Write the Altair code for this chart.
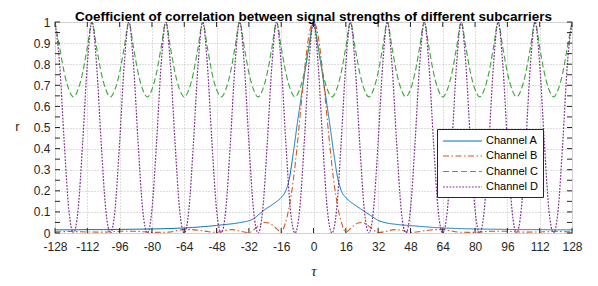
import altair as alt
import pandas as pd

names = ["Channel A", "Channel B", "Channel C", "Channel D"]

x_ab = [-128, -120, -112, -104, -96, -88, -80, -72, -64, -60, -56, -52, -48, -44, -40, -36,
        -32, -30, -28, -26, -24, -22, -20, -18, -16, -14, -12, -10, -8, -6, -4, -2, 0,
        2, 4, 6, 8, 10, 12, 14, 16, 18, 20, 22, 24, 26, 28, 30, 32,
        36, 40, 44, 48, 52, 56, 60, 64, 72, 80, 88, 96, 104, 112, 120, 128]

chan_a = [0.015, 0.015, 0.016, 0.016, 0.017, 0.018, 0.019, 0.021, 0.024, 0.026, 0.029, 0.032, 0.036, 0.04, 0.044, 0.05,
          0.058, 0.066, 0.08, 0.096, 0.112, 0.124, 0.137, 0.151, 0.168, 0.195, 0.255, 0.38, 0.52, 0.65, 0.78, 0.9, 1.0,
          0.9, 0.78, 0.65, 0.52, 0.38, 0.26, 0.195, 0.168, 0.15, 0.136, 0.123, 0.11, 0.097, 0.085, 0.072, 0.06,
          0.048, 0.042, 0.038, 0.035, 0.032, 0.029, 0.026, 0.024, 0.021, 0.019, 0.018, 0.017, 0.016, 0.016, 0.015, 0.015]

chan_b = [0.005, 0.007, 0.005, 0.004, 0.008, 0.008, 0.003, 0.004, 0.016, 0.016, 0.012, 0.006, 0.003, 0.012, 0.016, 0.008,
          0.002, 0.012, 0.028, 0.042, 0.05, 0.047, 0.035, 0.018, 0.003, 0.045, 0.125, 0.25, 0.42, 0.62, 0.81, 0.95, 1.0,
          0.95, 0.81, 0.62, 0.42, 0.25, 0.125, 0.045, 0.003, 0.018, 0.035, 0.047, 0.05, 0.042, 0.028, 0.012, 0.002,
          0.008, 0.016, 0.012, 0.003, 0.006, 0.012, 0.016, 0.016, 0.004, 0.003, 0.008, 0.008, 0.004, 0.005, 0.007, 0.005]

x_cd = [-128, -125.71, -123.43, -121.14, -118.86, -116.57, -114.29,
        -112, -109.71, -107.43, -105.14, -102.86, -100.57, -98.29,
        -96, -93.71, -91.43, -89.14, -86.86, -84.57, -82.29,
        -80, -77.71, -75.43, -73.14, -70.86, -68.57, -66.29,
        -64, -61.71, -59.43, -57.14, -54.86, -52.57, -50.29,
        -48, -45.71, -43.43, -41.14, -38.86, -36.57, -34.29,
        -32, -29.71, -27.43, -25.14, -22.86, -20.57, -18.29,
        -16, -13.71, -11.43, -9.14, -6.86, -4.57, -2.29,
        0, 2.29, 4.57, 6.86, 9.14, 11.43, 13.71,
        16, 18.29, 20.57, 22.86, 25.14, 27.43, 29.71,
        32, 34.29, 36.57, 38.86, 41.14, 43.43, 45.71,
        48, 50.29, 52.57, 54.86, 57.14, 59.43, 61.71,
        64, 66.29, 68.57, 70.86, 73.14, 75.43, 77.71,
        80, 82.29, 84.57, 86.86, 89.14, 91.43, 93.71,
        96, 98.29, 100.57, 102.86, 105.14, 107.43, 109.71,
        112, 114.29, 116.57, 118.86, 121.14, 123.43, 125.71,
        128]

chan_c = [1.0, 0.88, 0.76, 0.68, 0.645, 0.68, 0.76, 0.88,
          1.0, 0.88, 0.76, 0.68, 0.645, 0.68, 0.76, 0.88,
          1.0, 0.88, 0.76, 0.68, 0.645, 0.68, 0.76, 0.88,
          1.0, 0.88, 0.76, 0.68, 0.645, 0.68, 0.76, 0.88,
          1.0, 0.88, 0.76, 0.68, 0.645, 0.68, 0.76, 0.88,
          1.0, 0.88, 0.76, 0.68, 0.645, 0.68, 0.76, 0.88,
          1.0, 0.88, 0.76, 0.68, 0.645, 0.68, 0.76, 0.88,
          1.0, 0.88, 0.76, 0.68, 0.645, 0.68, 0.76, 0.88,
          1.0, 0.88, 0.76, 0.68, 0.645, 0.68, 0.76, 0.88,
          1.0, 0.88, 0.76, 0.68, 0.645, 0.68, 0.76, 0.88,
          1.0, 0.88, 0.76, 0.68, 0.645, 0.68, 0.76, 0.88,
          1.0, 0.88, 0.76, 0.68, 0.645, 0.68, 0.76, 0.88,
          1.0, 0.88, 0.76, 0.68, 0.645, 0.68, 0.76, 0.88,
          1.0, 0.88, 0.76, 0.68, 0.645, 0.68, 0.76, 0.88,
          1.0]

chan_d = [1.0, 0.80, 0.43, 0.11, 0.0, 0.11, 0.43, 0.80,
          1.0, 0.80, 0.43, 0.11, 0.0, 0.11, 0.43, 0.80,
          1.0, 0.80, 0.43, 0.11, 0.0, 0.11, 0.43, 0.80,
          1.0, 0.80, 0.43, 0.11, 0.0, 0.11, 0.43, 0.80,
          1.0, 0.80, 0.43, 0.11, 0.0, 0.11, 0.43, 0.80,
          1.0, 0.80, 0.43, 0.11, 0.0, 0.11, 0.43, 0.80,
          1.0, 0.80, 0.43, 0.11, 0.0, 0.11, 0.43, 0.80,
          1.0, 0.80, 0.43, 0.11, 0.0, 0.11, 0.43, 0.80,
          1.0, 0.80, 0.43, 0.11, 0.0, 0.11, 0.43, 0.80,
          1.0, 0.80, 0.43, 0.11, 0.0, 0.11, 0.43, 0.80,
          1.0, 0.80, 0.43, 0.11, 0.0, 0.11, 0.43, 0.80,
          1.0, 0.80, 0.43, 0.11, 0.0, 0.11, 0.43, 0.80,
          1.0, 0.80, 0.43, 0.11, 0.0, 0.11, 0.43, 0.80,
          1.0, 0.80, 0.43, 0.11, 0.0, 0.11, 0.43, 0.80,
          1.0]

x_ticks = [-128, -112, -96, -80, -64, -48, -32, -16, 0, 16, 32, 48, 64, 80, 96, 112, 128]
y_ticks = [0, 0.1, 0.2, 0.3, 0.4, 0.5, 0.6, 0.7, 0.8, 0.9, 1]
y_minor = [0.05, 0.15, 0.25, 0.35, 0.45, 0.55, 0.65, 0.75, 0.85, 0.95]

colors = ["#0072BD", "#D95319", "#3BAA3B", "#7E2F8E"]
dashes = [[1, 0], [6, 2.5, 1.5, 2.5], [6, 3], [1.8, 1.4]]
widths = [1.0, 1.2, 1.2, 1.9]

rows = []
for xs, vs, nm in [(x_ab, chan_a, names[0]), (x_ab, chan_b, names[1]),
                   (x_cd, chan_c, names[2]), (x_cd, chan_d, names[3])]:
    for xv, yv in zip(xs, vs):
        rows.append({"tau": xv, "r": yv, "series": nm})
df = pd.DataFrame(rows)

W, H = 517, 211
FONT = "Liberation Sans"
AX = "#262626"

xscale = alt.Scale(domain=[-128, 128], nice=False, zero=False)
yscale = alt.Scale(domain=[0, 1], nice=False, zero=False)

legend = alt.Legend(
    title=None, orient="none", legendX=382, legendY=107,
    symbolType="M-1,0H5", symbolSize=169, labelOffset=29,
    padding=5, strokeColor=AX, fillColor="white",
    labelFont=FONT, labelFontSize=11, labelColor="black",
    rowPadding=2.5, symbolFillColor="transparent", symbolOpacity=1,
    symbolStrokeWidth=1.5,
)

xaxis = alt.Axis(values=x_ticks, labelExpr="toString(datum.value)", grid=True,
                 gridDash=[1, 2], gridColor="#bcbcbc", ticks=False, domain=False,
                 labelOverlap=False, labelFlush=False, labelFont=FONT, labelFontSize=12,
                 labelColor=AX, labelPadding=8,
                 title="τ", titleFont="Liberation Serif", titleFontStyle="italic",
                 titleFontWeight="normal", titleFontSize=15, titleColor=AX,
                 titleY=37, titleBaseline="middle")
yaxis = alt.Axis(values=y_ticks, labelExpr="toString(datum.value)", grid=True,
                 gridDash=[1, 2], gridColor="#bcbcbc", ticks=False, domain=False,
                 labelOverlap=False, labelFlush=False, labelFont=FONT, labelFontSize=12,
                 labelColor=AX, labelPadding=5,
                 title="r", titleAngle=0, titleFont=FONT, titleFontWeight="normal",
                 titleFontSize=13, titleColor=AX, titleX=-38, titleY=104,
                 titleAlign="center", titleBaseline="middle")

lines = alt.Chart(df).mark_line(interpolate="monotone", clip=True).encode(
    x=alt.X("tau:Q", scale=xscale, axis=xaxis),
    y=alt.Y("r:Q", scale=yscale, axis=yaxis),
    color=alt.Color("series:N", scale=alt.Scale(domain=names, range=colors), legend=legend),
    strokeDash=alt.StrokeDash("series:N", scale=alt.Scale(domain=names, range=dashes), legend=legend),
    strokeWidth=alt.StrokeWidth("series:N", scale=alt.Scale(domain=names, range=widths), legend=None),
)

xt = pd.DataFrame({"tau": x_ticks})
yt = pd.DataFrame({"r": y_ticks + y_minor})

xb = alt.Chart(xt).mark_rule(color=AX, strokeWidth=1).encode(
    x=alt.X("tau:Q", scale=xscale, axis=xaxis), y=alt.value(H), y2=alt.value(H - 5))
xtop = alt.Chart(xt).mark_rule(color=AX, strokeWidth=1).encode(
    x=alt.X("tau:Q", scale=xscale, axis=xaxis), y=alt.value(0), y2=alt.value(5))
yl = alt.Chart(yt).mark_rule(color=AX, strokeWidth=1).encode(
    y=alt.Y("r:Q", scale=yscale, axis=yaxis), x=alt.value(0), x2=alt.value(5))
yr = alt.Chart(yt).mark_rule(color=AX, strokeWidth=1).encode(
    y=alt.Y("r:Q", scale=yscale, axis=yaxis), x=alt.value(W), x2=alt.value(W - 5))

chart = alt.layer(lines, xb, xtop, yl, yr).properties(
    width=W, height=H,
    title=alt.TitleParams(
        "Coefficient of correlation between signal strengths of different subcarriers",
        font=FONT, fontSize=13.5, fontWeight="bold", color="black", anchor="middle", offset=-7),
    autosize=alt.AutoSizeParams(type="none"),
    padding={"left": 47, "top": 14, "right": 18, "bottom": 45},
).configure_view(
    stroke=AX, strokeWidth=1
).configure_axis(
    labelOverlap=False, labelFlush=False
).configure(background="white")

chart.save("out.html", embed_options={"renderer": "svg", "actions": False})
